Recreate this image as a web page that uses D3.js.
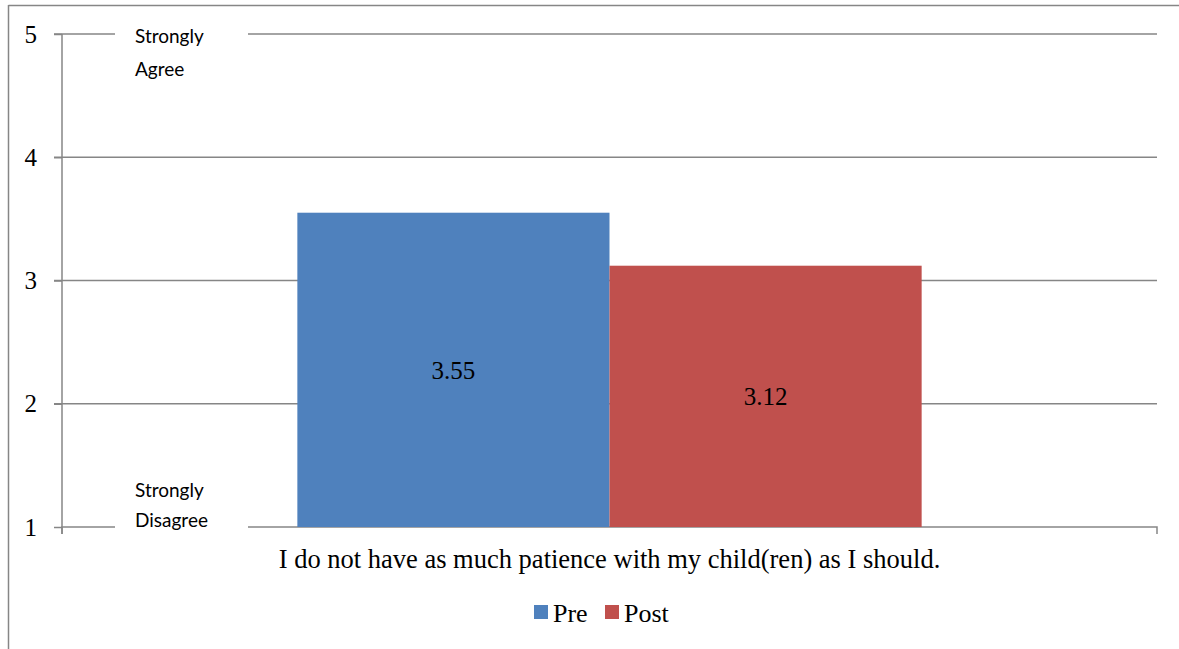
<!DOCTYPE html>
<html>
<head>
<meta charset="utf-8">
<script src="https://cdn.jsdelivr.net/npm/d3@7"></script>
<style>
  html, body { margin: 0; padding: 0; background: #fff; }
  svg { display: block; }
</style>
</head>
<body>
<svg id="chart" width="1179" height="649"></svg>
<script>
// Survey item: mean rating before and after the programme (1–5 scale)
const categories = ["I do not have as much patience with my child(ren) as I should."];
const seriesNames = ["Pre", "Post"];
const preValues = [3.55];
const postValues = [3.12];
const seriesColors = ["#4F81BD", "#C0504D"];
const yTicks = [1, 2, 3, 4, 5];
const anchorLabels = [
  { value: 5, lines: ["Strongly", "Agree"] },
  { value: 1, lines: ["Strongly", "Disagree"] }
];

const svg = d3.select("#chart");
const serif = "'Liberation Serif', 'Times New Roman', serif";
const sans = "Lato, 'Open Sans', sans-serif";
const gridColor = "#868686";

const plot = { left: 62, right: 1157, top: 34, bottom: 527 };

const y = d3.scaleLinear().domain([1, 5]).range([plot.bottom, plot.top]);
const x = d3.scaleBand().domain(categories)
  .range([plot.left, plot.right])
  .paddingInner(0).paddingOuter(0.377);
const xs = d3.scaleBand().domain(seriesNames).range([0, x.bandwidth()]);

// Outer frame (top and left edges)
svg.append("line").attr("x1", 8.5).attr("x2", 1179).attr("y1", 5.5).attr("y2", 5.5)
  .attr("stroke", gridColor).attr("stroke-width", 1.5);
svg.append("line").attr("x1", 8.5).attr("x2", 8.5).attr("y1", 5).attr("y2", 649)
  .attr("stroke", gridColor).attr("stroke-width", 1.5);

// Gridlines with left tick stubs
svg.append("g").selectAll("line").data(yTicks.filter(t => t !== 1)).join("line")
  .attr("x1", plot.left - 8).attr("x2", plot.right)
  .attr("y1", d => y(d)).attr("y2", d => y(d))
  .attr("stroke", gridColor).attr("stroke-width", 1.5);

// Y axis via d3.axisLeft
const yAxis = svg.append("g").attr("transform", `translate(${plot.left},0)`)
  .call(d3.axisLeft(y).tickValues(yTicks).tickSize(8).tickPadding(17).tickFormat(d3.format("d")));
yAxis.select(".domain").remove();
yAxis.selectAll(".tick line").attr("stroke", gridColor).attr("stroke-width", 1.5);
yAxis.selectAll(".tick text").attr("font-family", serif).attr("font-size", 25).attr("fill", "#000");
svg.append("line").attr("x1", plot.left).attr("x2", plot.left)
  .attr("y1", plot.top).attr("y2", plot.bottom + 7)
  .attr("stroke", gridColor).attr("stroke-width", 1.5);

// X axis baseline with end ticks
const xAxis = svg.append("g").attr("transform", `translate(0,${plot.bottom})`)
  .call(d3.axisBottom(x).tickSize(0).tickPadding(22));
xAxis.select(".domain").attr("stroke", gridColor).attr("stroke-width", 1.5)
  .attr("d", `M${plot.left},7V0H${plot.right}V7`);
xAxis.selectAll(".tick text").attr("font-family", serif).attr("font-size", 26.5).attr("fill", "#000");

// Bars
const series = seriesNames.map((name, i) => ({
  name, color: seriesColors[i], values: i === 0 ? preValues : postValues
}));
const barData = [];
series.forEach(s => s.values.forEach((v, j) => barData.push({ series: s.name, color: s.color, cat: categories[j], value: v })));

svg.append("g").selectAll("rect").data(barData).join("rect")
  .attr("x", d => x(d.cat) + xs(d.series))
  .attr("width", xs.bandwidth())
  .attr("y", d => y(d.value))
  .attr("height", d => y(1) - y(d.value))
  .attr("fill", d => d.color);

svg.append("g").selectAll("text").data(barData).join("text")
  .attr("x", d => x(d.cat) + xs(d.series) + xs.bandwidth() / 2)
  .attr("y", d => (y(d.value) + y(1)) / 2)
  .attr("dy", "0.35em")
  .attr("text-anchor", "middle")
  .attr("font-family", serif).attr("font-size", 25).attr("fill", "#000")
  .text(d => d.value.toFixed(2));

// Scale anchor text boxes (white background over the gridlines)
const boxX = 115, boxW = 133;
anchorLabels.forEach(a => {
  const g = svg.append("g");
  const top = a.value === 5 ? y(a.value) - 12 : y(a.value) - 52;
  g.append("rect").attr("x", boxX).attr("y", top).attr("width", boxW).attr("height", 62).attr("fill", "#fff");
  g.selectAll("text").data(a.lines).join("text")
    .attr("x", 135)
    .attr("y", (d, i) => (a.value === 5 ? y(a.value) + 9 : y(a.value) - 30) + i * (a.value === 5 ? 33 : 30))
    .attr("font-family", sans).attr("font-size", 19).attr("fill", "#000")
    .text(d => d);
});

// Legend
const legend = svg.append("g");
const legendItems = [{ name: "Pre", x: 534 }, { name: "Post", x: 605 }];
legendItems.forEach((item, i) => {
  legend.append("rect").attr("x", item.x).attr("y", 605).attr("width", 14).attr("height", 14)
    .attr("fill", seriesColors[i]);
  legend.append("text").attr("x", item.x + 19).attr("y", 622)
    .attr("font-family", serif).attr("font-size", 26).attr("fill", "#000")
    .text(item.name);
});
</script>
</body>
</html>
